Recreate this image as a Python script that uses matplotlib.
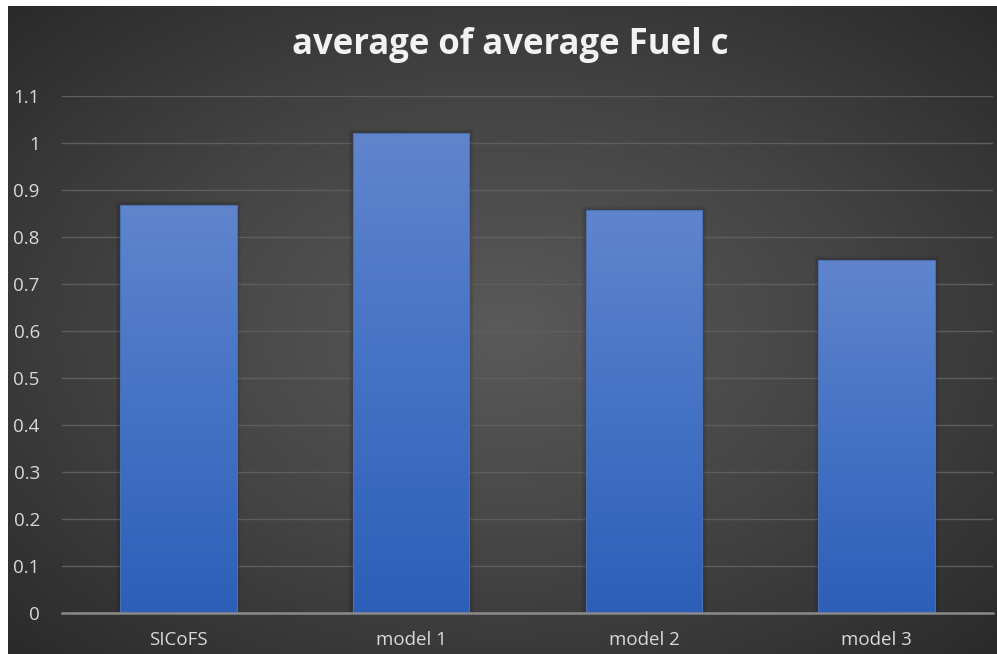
import numpy as np
import matplotlib.pyplot as plt
from matplotlib.colors import LinearSegmentedColormap

# bar chart data
categories = ['SICoFS', 'model 1', 'model 2', 'model 3']
values = [0.868, 1.021, 0.857, 0.751]
yticks = [0, 0.1, 0.2, 0.3, 0.4, 0.5, 0.6, 0.7, 0.8, 0.9, 1, 1.1]
yticklabels = ['0', '0.1', '0.2', '0.3', '0.4', '0.5', '0.6', '0.7', '0.8', '0.9', '1', '1.1']
title = 'average of average Fuel c'

W, H = 997, 654
plt.rcParams['font.family'] = ['Open Sans', 'DejaVu Sans']

fig = plt.figure(figsize=(W/100, H/100), dpi=100, facecolor='white')

# dark radial background of the chart area
bg = fig.add_axes([8/W, 0, (W-8)/W, (H-6)/H])
bg.set_axis_off()
yy, xx = np.mgrid[0:1:400j, 0:1:600j]
r = np.sqrt(((xx-0.5)/0.75)**2 + ((yy-0.5)/0.75)**2)
r = np.clip(r/0.95, 0, 1)
bgcmap = LinearSegmentedColormap.from_list('bg', ['#5a5a5a', '#444444', '#2a2a2a'])
bg.imshow(r, cmap=bgcmap, aspect='auto', extent=[0, 1, 0, 1], origin='lower', vmin=0, vmax=1)
bg.set_xlim(0, 1)
bg.set_ylim(0, 1)

ax = fig.add_axes([62/W, (H-613)/H, (993-62)/W, (613-96)/H])
ax.patch.set_alpha(0)
x = np.arange(len(categories))
ax.set_xlim(-0.5, len(categories)-0.5)
ax.set_ylim(0, 1.1)

bars = ax.bar(x, values, width=0.5, color='none', zorder=3)

# soft shadow and vertical blue gradient for each bar
grad = np.linspace(0, 1, 256).reshape(-1, 1)
barcmap = LinearSegmentedColormap.from_list('bar', ['#2d5fb8', '#4472c4', '#6085cd'])
for b in bars:
    x0, w, h = b.get_x(), b.get_width(), b.get_height()
    for k in range(1, 6):
        d = 0.004*k
        ax.add_patch(plt.Rectangle((x0-d, 0), w+2*d, h+d*0.4, color='black',
                                   alpha=0.035, lw=0, zorder=2))
    im = ax.imshow(grad, cmap=barcmap, aspect='auto', origin='lower',
                   extent=[x0, x0+w, 0, h], zorder=3)
    im.set_clip_path(b)
    ax.add_patch(plt.Rectangle((x0, 0), w, h, fill=False, ec='#4a6fb5', lw=0.8, zorder=4))

ax.set_xlim(-0.5, len(categories)-0.5)
ax.set_ylim(0, 1.1)

ax.set_yticks(yticks)
ax.set_yticklabels(yticklabels)
ax.set_xticks(x)
ax.set_xticklabels(categories)
ax.tick_params(axis='both', length=0, colors='#d9d9d9', labelsize=13.5)
ax.tick_params(axis='y', pad=16)
ax.tick_params(axis='x', pad=13)
ax.yaxis.grid(True, color='#5e5e5e', lw=1)
ax.set_axisbelow(True)
for s in ['top', 'right', 'left']:
    ax.spines[s].set_visible(False)
ax.spines['bottom'].set_color('#8a8a8a')
ax.spines['bottom'].set_linewidth(1.8)
ax.spines['bottom'].set_zorder(5)

fig.text(0.5 + 12/W, 1 - 54/H, title, ha='center', va='baseline', color='#f2f2f2',
         fontsize=25, fontweight='bold')

plt.savefig('out.png', dpi=100, facecolor='white')
plt.close()
